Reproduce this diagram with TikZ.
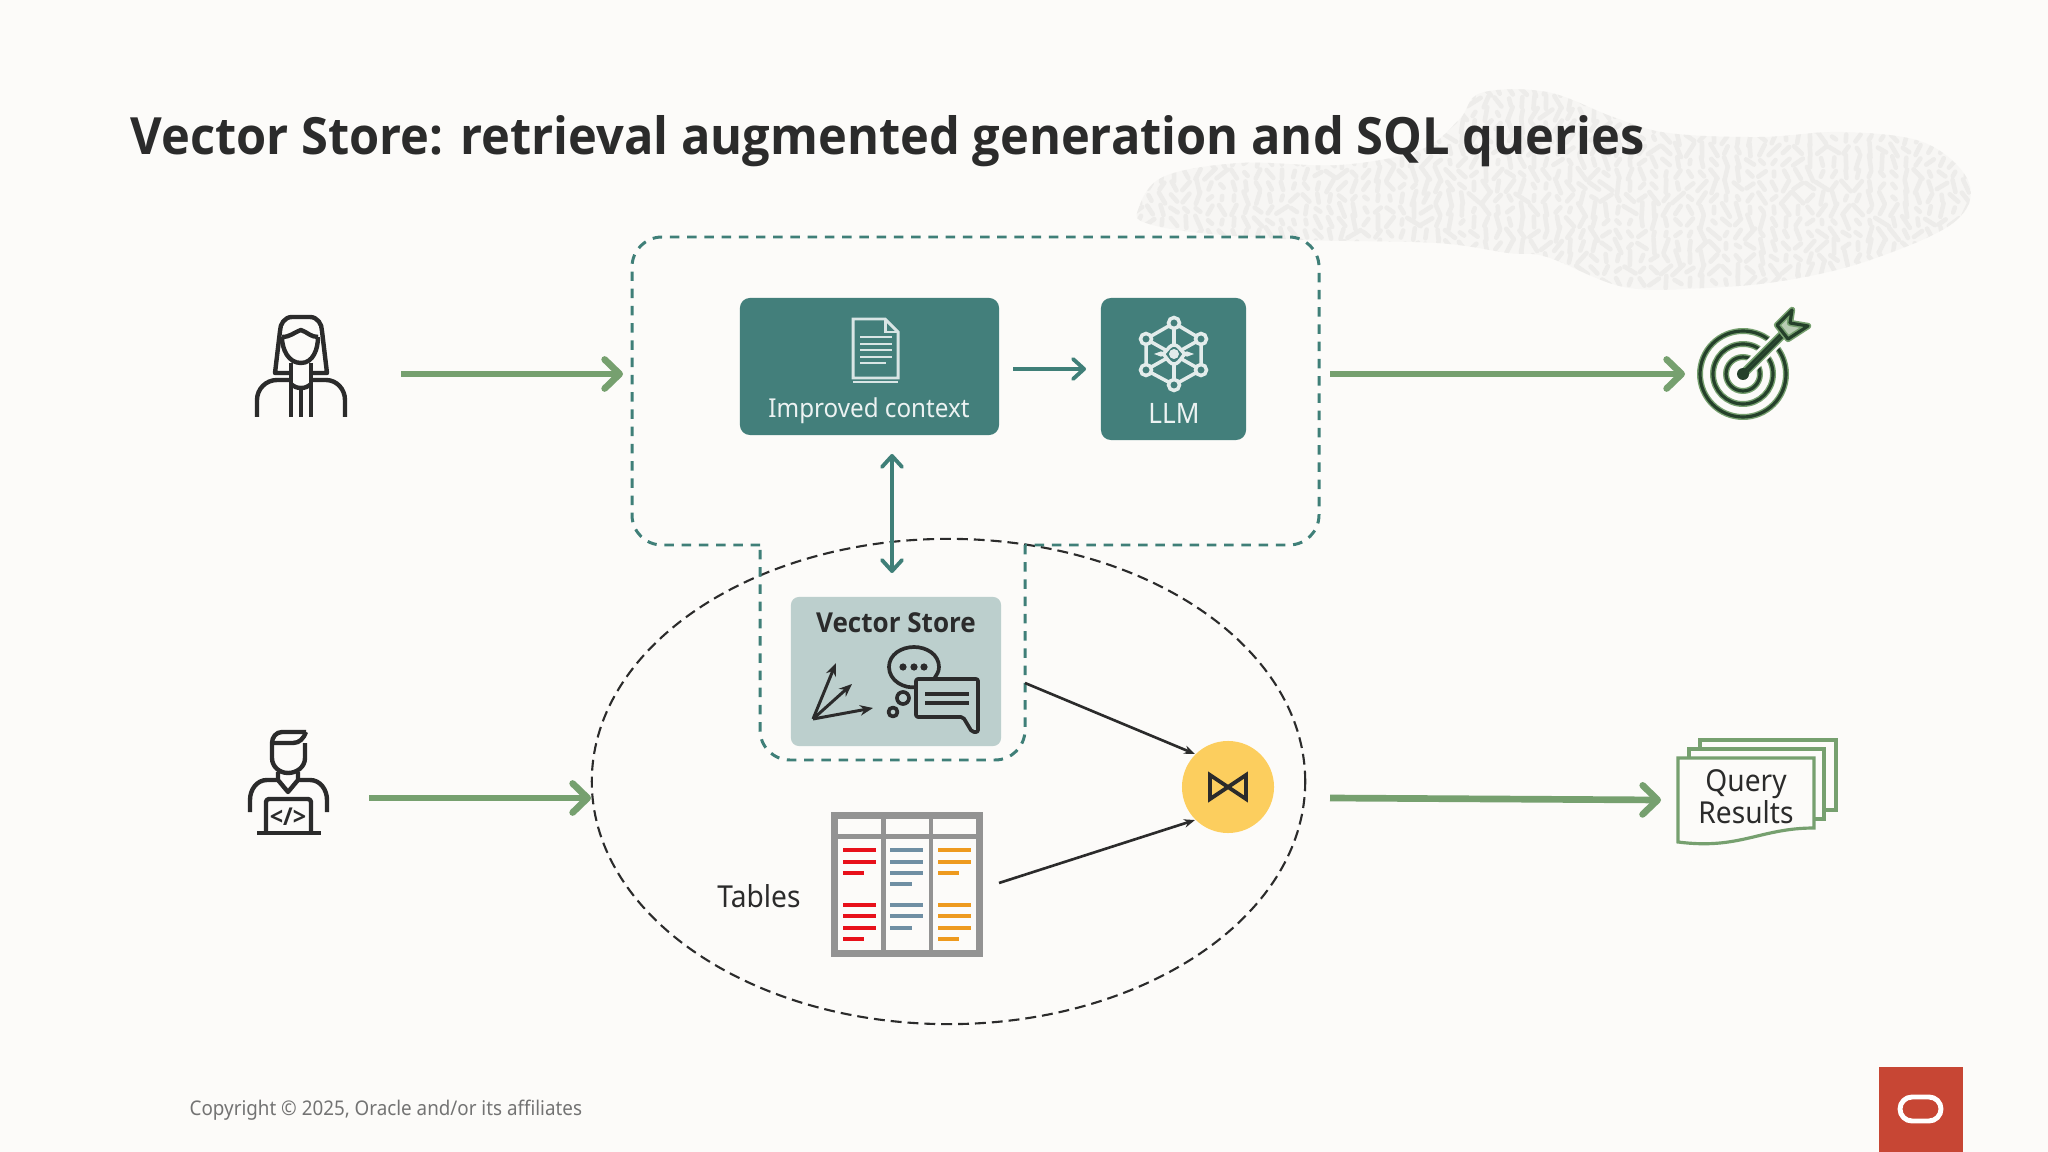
\documentclass[tikz,border=0pt]{standalone}
\usepackage{fontspec}
\setmainfont[FakeStretch=0.93]{Noto Sans}
\newfontfamily\headfont[FakeStretch=0.95]{Open Sans}
\usetikzlibrary{arrows.meta,shapes.geometric}

\definecolor{pagebg}{HTML}{FCFBF9}
\definecolor{inkdark}{HTML}{2B2B2B}
\definecolor{tealbox}{HTML}{437F7B}
\definecolor{tealdash}{HTML}{3F7F78}
\definecolor{greenline}{HTML}{76A06F}
\definecolor{storebox}{HTML}{BCCFCD}
\definecolor{joinyellow}{HTML}{FCCE5E}
\definecolor{tablegray}{HTML}{939393}
\definecolor{cellred}{HTML}{E8101A}
\definecolor{cellslate}{HTML}{6F8FA3}
\definecolor{cellorange}{HTML}{EE9A1E}
\definecolor{oraclered}{HTML}{C74634}
\definecolor{targetdark}{HTML}{24402A}

\newcommand{\patchoutline}{plot[smooth cycle, tension=0.6] coordinates {(1138,210) (1163,177) (1240,163)
    (1340,165) (1420,150) (1459,120) (1481,93) (1547,92) (1613,117) (1668,133) (1761,137) (1843,132)
    (1925,143) (1969,183) (1953,223) (1870,260) (1788,280) (1706,288) (1624,287) (1547,257)
    (1508,253) (1437,243) (1305,240) (1201,233) (1146,223)}}

\tikzset{
    px/.style={font=\fontsize{#1}{#1}\selectfont},
    boldtext/.style={font=\fontsize{#1}{#1}\selectfont\headfont\bfseries},
    textlabel/.style={inner sep=0pt, anchor=base, text=inkdark, px=8.6pt},
    whitelabel/.style={inner sep=0pt, anchor=base, text=white!90!tealbox, px=#1},
    greenarrow/.style={draw=greenline, line width=1.9pt, -{Straight Barb[round, length=1.5mm, width=2.9mm]}},
    tealarrow/.style={draw=tealdash, line width=1.1pt, -{Straight Barb[round, length=1.1mm, width=2mm]}},
    blackarrow/.style={draw=inkdark, line width=0.75pt, -{Stealth[length=1.1mm, width=0.85mm]}},
    icon/.style={draw=inkdark, line width=1.25pt, line join=round},
    smallicon/.style={draw=inkdark, line width=1.05pt, line join=round},
    whiteicon/.style={draw=white!85!tealbox, line width=1pt},
    docicon/.style={draw=white!80!tealbox, line width=0.85pt},
    teambox/.style={fill=tealbox, rounded corners=0.1cm, inner sep=0pt},
    sheet/.style={draw=greenline, line width=0.9pt},
    regionline/.style={draw=tealdash, line width=0.85pt, dash pattern=on 2.7pt off 2.2pt},
}

\begin{document}
\begin{tikzpicture}[x=0.01cm, y=-0.01cm]

    % Page
    \fill[pagebg] (0,0) rectangle (2048,1152);
    \useasboundingbox (0,0) rectangle (2048,1152);

    % Textured patch behind the title
    \begin{scope}
        \pgfmathsetseed{41}
        \fill[black!2!pagebg] \patchoutline;
        \clip \patchoutline;
        \foreach \xm in {1138,1150,...,1970} {
            \foreach \ym in {90,102,...,290} {
                \pgfmathsetmacro{\am}{90+60*rand}
                \pgfmathsetmacro{\lm}{5+3*rand}
                \draw[black!6!pagebg, line width=1.3pt, line cap=round]
                    ({\xm-\lm*cos(\am)},{\ym-\lm*sin(\am)}) -- ({\xm+\lm*cos(\am)},{\ym+\lm*sin(\am)});
            }
        }
    \end{scope}

    % Title and footer
    \node[inner sep=0pt, anchor=base west, text=inkdark, boldtext=14.6pt] (title) at (130,155)
        {Vector Store: retrieval augmented generation and SQL queries};
    \node[inner sep=0pt, anchor=base west, text=black!55, px=5.75pt] (copyright) at (189,1115)
        {Copyright © 2025, Oracle and/or its affiliates};
    \node[fill=oraclered, minimum width=0.84cm, minimum height=0.85cm, inner sep=0pt] (logo) at (1921,1109.5) {};
    \draw[white, line width=1.4pt, rounded corners=0.12cm] (1900,1097) rectangle (1941,1121);

    % Ellipse around the stored data
    \node[ellipse, draw=inkdark, dash pattern=on 3.1pt off 1.7pt, line width=0.6pt, minimum width=7.13cm, minimum height=4.85cm, inner sep=0pt, outer sep=0pt] (stored) at (948.5,781.5) {};

    % Dashed region
    \draw[regionline, rounded corners=0.3cm] (760,545) -- (632,545) -- (632,237) -- (1319,237) -- (1319,545) -- (1025,545);
    \draw[regionline, rounded corners=0.3cm] (1025,545) -- (1025,760) -- (760,760) -- (760,545);

    % Boxes
    \node[teambox, minimum width=2.59cm, minimum height=1.37cm] (improved) at (869.5,366.5) {};
    \node[teambox, minimum width=1.45cm, minimum height=1.42cm] (llm) at (1173.5,369) {};
    \node[fill=storebox, rounded corners=0.08cm, inner sep=0pt, minimum width=2.1cm, minimum height=1.49cm] (store) at (896,671.5) {};
    \node[circle, fill=joinyellow, minimum size=0.92cm, inner sep=0pt] (join) at (1228,787) {};

    % Labels
    \node[whitelabel=7.4pt] (improvedlabel) at (869,418) {Improved context};
    \node[whitelabel=8pt] (llmlabel) at (1174,424) {LLM};
    \node[textlabel, boldtext=7.8pt] (storelabel) at (896,633) {Vector Store};
    \node[textlabel] (tableslabel) at (759,907) {Tables};
    \node[textlabel] (querylabel) at (1746,791) {Query};
    \node[textlabel] (resultslabel) at (1746,823) {Results};

    % Free ends of the connectors
    \coordinate (womanout) at (401,374);
    \coordinate (regionin) at (623,374);
    \coordinate (regionout) at (1330,374);
    \coordinate (targetin) at (1685,374);
    \coordinate (devout) at (369,798);
    \coordinate (storedin) at (591,798);
    \coordinate (joinout) at (1330,798);
    \coordinate (resultsin) at (1661,800);
    \coordinate (storeout) at (1025,683);
    \coordinate (tablesout) at (999,883);
    \coordinate (improvedout) at (1013,369);
    \coordinate (llmin) at (1086,369);
    \coordinate (contexttop) at (892,454);
    \coordinate (storetop) at (892,573);

    % Edges
    \draw[greenarrow] (womanout) -- (regionin);
    \draw[greenarrow] (regionout) -- (targetin);
    \draw[greenarrow] (devout) -- (storedin);
    \draw[greenarrow] (joinout) -- (resultsin);
    \draw[tealarrow] (improvedout) -- (llmin);
    \draw[tealarrow, {Straight Barb[round, length=1.1mm, width=2mm]}-{Straight Barb[round, length=1.1mm, width=2mm]}] (contexttop) -- (storetop);
    \draw[blackarrow] (storeout) -- (join.135);
    \draw[blackarrow] (tablesout) -- (join.225);

    % Join symbol
    \draw[inkdark, line width=1.1pt, line join=miter] (1210,775) -- (1246,799) -- (1246,775) -- (1210,799) -- cycle;

    % Document icon
    \draw[docicon] (853,378) -- (853,319) -- (885,319) -- (898,332) -- (898,378) -- cycle;
    \draw[docicon] (885,319) -- (885,332) -- (898,332);
    \draw[docicon] (853,382) -- (898,382);
    \foreach \yl/\xe in {337/892,344/892,350/892,357/892,363/886} {
        \draw[docicon] (860,\yl) -- (\xe,\yl);
    }

    % LLM icon
    \draw[whiteicon] (1174,323) -- (1201,339) -- (1201,370) -- (1174,385) -- (1146,370) -- (1146,339) -- cycle;
    \draw[whiteicon] (1174,323) -- (1174,385);
    \draw[whiteicon] (1146,339) -- (1201,370);
    \draw[whiteicon] (1201,339) -- (1146,370);
    \draw[whiteicon, fill=tealbox] (1159,354) to[out=-35,in=180] (1174,345) to[out=0,in=215] (1189,354) to[out=145,in=0] (1174,364) to[out=180,in=35] (1159,354) -- cycle;
    \fill[white!85!tealbox] (1174,354) circle[radius=5];
    \foreach \xn/\yn in {1174/323,1201/339,1201/370,1174/385,1146/370,1146/339} {
        \draw[whiteicon, fill=tealbox] (\xn,\yn) circle[radius=5.5];
    }

    % Vector icon
    \foreach \xt/\yt in {836/663,852/684,873/708} {
        \draw[draw=inkdark, line width=0.85pt, -{Stealth[length=1.3mm, width=1.05mm]}] (813,719) -- (\xt,\yt);
    }

    % Chat icon
    \draw[smallicon] (917,687) to[out=190,in=-90] (889,667) to[out=90,in=180] (914,647) to[out=0,in=90] (939,667) to[out=-90,in=60] (934,679);
    \foreach \xd in {903,914,924} {
        \fill[inkdark] (\xd,667) circle[radius=3.6];
    }
    \draw[smallicon] (903,698) circle[radius=6];
    \draw[smallicon] (893,712) circle[radius=4.5];
    \draw[smallicon, rounded corners=0.02cm] (916,679) -- (978,679) -- (978,732) -- (972,732) -- (963,717) -- (916,717) -- cycle;
    \draw[smallicon] (925,694) -- (969,694);
    \draw[smallicon] (925,703) -- (969,703);

    % Table icon
    \fill[tablegray] (831,812) rectangle (983,957);
    \foreach \xc in {838,886,933} {
        \fill[pagebg] (\xc,819) rectangle ++(43,15);
        \fill[pagebg] (\xc,839) rectangle ++(43,111);
    }
    \foreach \xc/\cc in {843/cellred,938/cellorange} {
        \foreach \yr/\wr in {850/33,862/33,873/21,905/33,916/33,928/33,939/21} {
            \fill[\cc] (\xc,\yr-2) rectangle ++(\wr,4);
        }
    }
    \foreach \yr/\wr in {850/33,862/33,873/33,884/22,905/33,916/33,928/22} {
        \fill[cellslate] (890,\yr-2) rectangle ++(\wr,4);
    }

    % Woman icon
    \draw[icon] (291,373) -- (275,373) -- (280,331) to[out=90,in=180] (292,317) -- (310,317) to[out=0,in=90] (322,331) -- (327,373) -- (312,373);
    \draw[icon] (282,337) to[out=0,in=200] (301,330) to[out=-20,in=180] (318,337);
    \draw[icon] (282,337) to[out=-90,in=180] (301,363) to[out=0,in=-90] (318,337);
    \draw[icon] (291,363) -- (291,417);
    \draw[icon] (311,363) -- (311,417);
    \draw[icon] (301,388) -- (301,417);
    \draw[icon] (291,384) to[out=-40,in=180] (301,388) to[out=0,in=220] (311,384);
    \draw[icon] (257,417) -- (257,400) to[out=90,in=180] (277,380) -- (291,380);
    \draw[icon] (345,417) -- (345,400) to[out=90,in=0] (326,380) -- (311,380);

    % Developer icon
    \draw[icon] (306,732) -- (282,732) to[out=180,in=90] (272,743) -- (272,758) to[out=-90,in=180] (288,773) to[out=0,in=-90] (305,758) -- (305,743);
    \draw[icon] (272,743) -- (293,743) to[out=0,in=-110] (306,732);
    \draw[icon] (278,772) -- (278,780) -- (288,792) -- (298,780) -- (298,772);
    \draw[icon] (250,812) -- (250,800) to[out=90,in=180] (267,780) -- (278,780);
    \draw[icon] (327,812) -- (327,800) to[out=90,in=0] (310,780) -- (298,780);
    \draw[icon, rounded corners=0.03cm] (266,833) -- (266,799) -- (311,799) -- (311,833);
    \draw[icon] (257,833) -- (321,833);
    \node[inner sep=0pt, text=inkdark, boldtext=7pt] (codelabel) at (288,817) {</>};

    % Target icon
    \foreach \rr in {43,30,17} {
        \draw[greenline, line width=1.7pt] (1743,374) circle[radius=\rr];
        \draw[targetdark, line width=0.9pt] (1743,374) circle[radius=\rr];
    }
    \draw[pagebg, line width=4pt] (1743,374) -- (1785,332);
    \draw[greenline, line width=2.6pt] (1743,374) -- (1783,334);
    \draw[targetdark, line width=0.8pt] (1745,370) -- (1781,334);
    \draw[targetdark, line width=0.8pt] (1747,372) -- (1783,336);
    \fill[targetdark] (1743,374) circle[radius=6];
    \draw[greenline, fill=greenline!50!pagebg, line width=1.8pt, line join=round] (1792,310) -- (1790,323) -- (1808,326) -- (1788,339) -- (1777,325) -- cycle;
    \draw[targetdark, line width=0.9pt, line join=round] (1792,310) -- (1790,323) -- (1808,326) -- (1788,339) -- (1777,325) -- cycle;

    % Result sheets
    \draw[sheet] (1700,748) -- (1700,740) -- (1836,740) -- (1836,810) -- (1825,810);
    \draw[sheet] (1689,757) -- (1689,749) -- (1824,749) -- (1824,819) -- (1815,819);
    \draw[sheet] (1678,758) -- (1814,758) -- (1814,828) .. controls (1760,828) and (1740,850) .. (1678,842) -- cycle;

\end{tikzpicture}
\end{document}
